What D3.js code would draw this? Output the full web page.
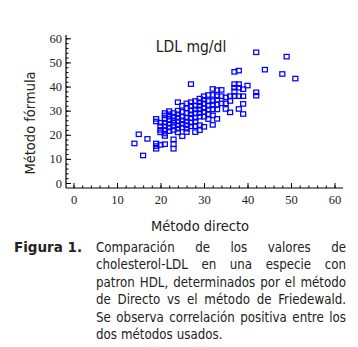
<!DOCTYPE html>
<html>
<head>
<meta charset="utf-8">
<script src="https://cdn.jsdelivr.net/npm/d3@7"></script>
<style>
  body { margin: 0; background: #fff; }
  svg { display: block; }
</style>
</head>
<body>
<script>
// Método directo values (x) and the Método fórmula readings at each x
const directo = [14, 15, 16, 17, 19, 20, 21, 22, 23, 24, 25, 26, 27, 28, 29, 30, 31, 32, 33, 34, 35, 36, 37, 38, 39, 40, 42, 44, 48, 49, 51]
const formula = [
  [16.4],
  [20.2],
  [11.4],
  [18.3],
  [26.6, 25.5, 16.4, 15.3, 14.2],
  [25, 23.5, 22, 21, 15.8],
  [29, 28, 26.5, 25, 23.5, 22, 20.5, 19.5, 16.1],
  [29.8, 28.5, 27.5, 26, 24.5, 23, 21.5],
  [29, 27.5, 26, 25, 23.5, 22, 18.1, 16.1, 14.2],
  [33.5, 30, 28.5, 27, 25.5, 24, 22.5, 21],
  [32, 29.5, 27.5, 26, 24.5, 23, 19.4],
  [33, 31, 29, 27, 25.5, 24, 22.5, 21.1],
  [41, 33.5, 32, 30, 28.5, 27, 25, 23.5],
  [34, 32, 30.5, 29, 27, 25.5, 23.5, 21.1],
  [35, 33.5, 32, 30.5, 29, 27.5, 24, 21.9],
  [36, 34.5, 33, 31, 29.5, 27.5, 23.3],
  [36.5, 34, 32, 30.5, 28.5, 26.5],
  [39, 36.5, 34, 32.5, 30.5, 28, 24.1],
  [38.5, 36, 34.5, 32.5, 30.5, 26.6],
  [38.6, 36, 33],
  [35.5, 33, 30.7],
  [36, 34, 29.3],
  [46.1, 41, 39.5, 38, 36],
  [46.6, 41, 39.5, 36, 30.7],
  [38.9, 36, 32.8, 28.6],
  [40.4],
  [54.2, 37.6, 36.2],
  [47],
  [45.2],
  [52.4],
  [43.3]
]
const majorTicks = [0, 10, 20, 30, 40, 50, 60]
const minorTicks = d3.range(0, 61, 2)
const chartTitle = 'LDL mg/dl'
const xTitle = 'Método directo'
const yTitle = 'Método fórmula'
const figLabel = 'Figura 1.'
const captionLines = [
  'Comparación de los valores de',
  'cholesterol-LDL en una especie con',
  'patron HDL, determinados por el método',
  'de Directo vs el método de Friedewald.',
  'Se observa correlación positiva entre los',
  'dos métodos usados.'
]

const points = []
directo.forEach((x, i) => formula[i].forEach(y => points.push({x, y})))

const width = 358, height = 347
const svg = d3.select('body').append('svg')
    .attr('width', width)
    .attr('height', height)

const xScale = d3.scaleLinear().domain([0, 60]).range([73.5, 334.5])
const yScale = d3.scaleLinear().domain([0, 60]).range([183, 38.3])

const axisX = 66, axisY = 188
const sansFont = "'DejaVu Sans Condensed', 'DejaVu Sans', sans-serif"
const ink = '#222'

// axis lines
svg.append('line')
    .attr('x1', axisX).attr('x2', axisX)
    .attr('y1', 35).attr('y2', axisY)
    .attr('stroke', '#000').attr('stroke-width', 1.2)
svg.append('line')
    .attr('x1', axisX).attr('x2', 343)
    .attr('y1', axisY).attr('y2', axisY)
    .attr('stroke', '#000').attr('stroke-width', 1.2)

function styleAxis(g) {
    g.select('.domain').remove()
    g.selectAll('line').attr('stroke', '#000')
    g.selectAll('text')
        .attr('font-family', "'Liberation Serif', serif")
        .attr('font-size', 12.5)
        .attr('fill', ink)
}

svg.append('g')
    .attr('transform', `translate(${axisX},0)`)
    .call(d3.axisLeft(yScale).tickValues(minorTicks).tickSize(-2.5).tickFormat(''))
    .call(styleAxis)
svg.append('g')
    .attr('transform', `translate(${axisX},0)`)
    .call(d3.axisLeft(yScale).tickValues(majorTicks).tickSize(-5).tickPadding(4))
    .call(styleAxis)

svg.append('g')
    .attr('transform', `translate(0,${axisY})`)
    .call(d3.axisBottom(xScale).tickValues(minorTicks).tickSize(-2.5).tickFormat(''))
    .call(styleAxis)
svg.append('g')
    .attr('transform', `translate(0,${axisY})`)
    .call(d3.axisBottom(xScale).tickValues(majorTicks).tickSize(-5).tickPadding(7))
    .call(styleAxis)

// points
svg.append('g').selectAll('rect')
    .data(points)
    .join('rect')
    .attr('x', d => xScale(d.x) - 2.5)
    .attr('y', d => yScale(d.y) - 2.2)
    .attr('width', 5)
    .attr('height', 4.4)
    .attr('fill', 'none')
    .attr('stroke', '#0000ff')
    .attr('stroke-width', 1.25)

// titles
svg.append('text')
    .attr('x', 191).attr('y', 52)
    .attr('text-anchor', 'middle')
    .attr('font-family', sansFont)
    .attr('font-size', 15.5)
    .attr('fill', ink)
    .text(chartTitle)

svg.append('text')
    .attr('transform', 'translate(35,123) rotate(-90)')
    .attr('text-anchor', 'middle')
    .attr('font-family', sansFont)
    .attr('font-size', 14.5)
    .attr('fill', ink)
    .text(yTitle)

svg.append('text')
    .attr('x', 200).attr('y', 231)
    .attr('text-anchor', 'middle')
    .attr('font-family', sansFont)
    .attr('font-size', 14.5)
    .attr('fill', ink)
    .text(xTitle)

// caption
svg.append('text')
    .attr('x', 14).attr('y', 252)
    .attr('font-family', "'DejaVu Sans', sans-serif")
    .attr('font-size', 13.5)
    .attr('font-weight', 'bold')
    .attr('fill', ink)
    .text(figLabel)

const capLeft = 96, capRight = 346, capTop = 252, capStep = 17.4
captionLines.forEach((line, li) => {
    const words = line.split(' ')
    const g = svg.append('g')
    const texts = words.map(w => g.append('text')
        .attr('y', capTop + li * capStep)
        .attr('font-family', sansFont)
        .attr('font-size', 13.2)
        .attr('fill', ink)
        .text(w))
    const widths = texts.map(t => t.node().getComputedTextLength())
    const total = d3.sum(widths)
    const last = li === captionLines.length - 1
    const gap = last ? 4 : Math.max(2, (capRight - capLeft - total) / (words.length - 1))
    let x = capLeft
    texts.forEach((t, i) => {
        t.attr('x', x)
        x += widths[i] + gap
    })
})
</script>
</body>
</html>
